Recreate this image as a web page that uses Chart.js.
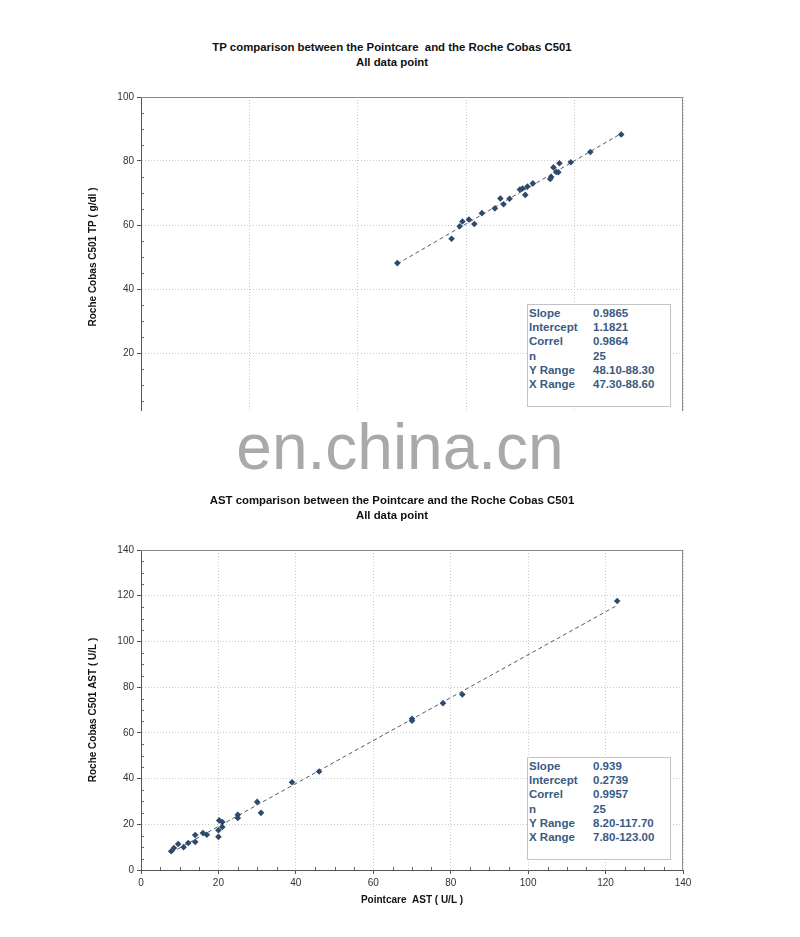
<!DOCTYPE html>
<html>
<head>
<meta charset="utf-8">
<script src="https://cdn.jsdelivr.net/npm/chart.js@4/dist/chart.umd.min.js"></script>
<style>
  body { margin: 0; background: #fff; font-family: "Liberation Sans", Arial, sans-serif; }
  #page { position: relative; width: 800px; height: 937px; overflow: hidden; }
  .title { position: absolute; left: 0; width: 784px; text-align: center; font-weight: bold; font-size: 11.4px; line-height: 15px; color: #111; }
  .stats { position: absolute; width: 144px; height: 103px; border: 1px solid #c4c4c4; background: #fff;
           color: #3a5a82; font-weight: bold; font-size: 11.5px; line-height: 14.2px; box-sizing: border-box; padding: 1px 0 0 1px; }
  .stats div { white-space: nowrap; }
  .stats span { display: inline-block; width: 64px; }
  .cv { position: absolute; left: 0; }
  #mask { position: absolute; left: 0; top: 411px; width: 800px; height: 68px; background: #fff; }
  #wm { position: absolute; left: 0; width: 800px; top: 410px; text-align: center; font-size: 64px; color: #a9a9a9; }
</style>
</head>
<body>
<div id="page">
  <div class="title" style="top:40px">TP comparison between the Pointcare&nbsp; and the Roche Cobas C501<br>All data point</div>
  <div class="cv" style="top:80px;width:800px;height:350px"><canvas id="tpChart"></canvas></div>
  <div class="stats" id="tpStats" style="left:527px;top:304px"></div>
  <div id="mask"></div>
  <div id="wm">en.china.cn</div>

  <div class="title" style="top:493px">AST comparison between the Pointcare and the Roche Cobas C501<br>All data point</div>
  <div class="cv" style="top:530px;width:800px;height:390px"><canvas id="astChart"></canvas></div>
  <div class="stats" id="astStats" style="left:527px;top:757px"></div>
</div>
<script>
// TP: Pointcare (x) vs Roche Cobas C501 (y), g/dl
const tpX = [47.3, 57.3, 58.8, 59.3, 60.5, 61.5, 62.9, 65.3, 66.3, 66.9, 68.0, 69.9, 70.4,
             70.9, 71.3, 72.3, 75.5, 75.7, 76.1, 76.6, 77.0, 77.2, 79.3, 82.9, 88.6];
const tpY = [48.1, 55.7, 59.6, 61.1, 61.7, 60.3, 63.7, 65.2, 68.3, 66.5, 68.2, 71.1, 71.4,
             69.4, 72.0, 73.0, 74.4, 75.0, 78.0, 76.6, 76.5, 79.3, 79.6, 82.8, 88.3];
const tpSlope = 0.9865;
const tpIntercept = 1.1821;
const tpStatLabels = ["Slope", "Intercept", "Correl", "n", "Y Range", "X Range"];
const tpStatValues = ["0.9865", "1.1821", "0.9864", "25", "48.10-88.30", "47.30-88.60"];

// AST: Pointcare (x) vs Roche Cobas C501 (y), U/L
const astX = [7.8, 8.5, 9.6, 11.0, 12.2, 14.0, 14.0, 16.0, 17.0, 20.0, 20.0, 20.2, 21.0,
              21.0, 25.0, 25.0, 30.0, 31.0, 39.0, 46.0, 70.0, 70.0, 78.0, 83.0, 123.0];
const astY = [8.2, 9.6, 11.4, 10.0, 11.8, 12.3, 15.3, 16.2, 15.4, 14.5, 17.4, 21.7, 21.0,
              18.8, 22.8, 24.2, 29.8, 25.0, 38.4, 43.1, 65.3, 66.2, 73.0, 76.8, 117.7];
const astSlope = 0.939;
const astIntercept = 0.2739;
const astStatLabels = ["Slope", "Intercept", "Correl", "n", "Y Range", "X Range"];
const astStatValues = ["0.939", "0.2739", "0.9957", "25", "8.20-117.70", "7.80-123.00"];

Chart.defaults.font.family = '"Liberation Sans", Arial, sans-serif';
Chart.defaults.font.size = 10;
Chart.defaults.color = "#333";

function fillStats(id, labels, values) {
  const box = document.getElementById(id);
  box.innerHTML = labels.map((l, i) => `<div><span>${l}</span>${values[i]}</div>`).join("");
}
fillStats("tpStats", tpStatLabels, tpStatValues);
fillStats("astStats", astStatLabels, astStatValues);

// plot frame on top/right and small minor ticks inside the axes
const axisDecor = {
  id: "axisDecor",
  afterDraw(chart) {
    const { ctx, chartArea: a, scales: { x, y } } = chart;
    ctx.save();
    ctx.lineWidth = 1;
    ctx.strokeStyle = "#8c8c8c";
    ctx.beginPath();
    ctx.moveTo(a.left, a.top + 0.5); ctx.lineTo(a.right, a.top + 0.5);
    ctx.moveTo(a.right - 0.5, a.top); ctx.lineTo(a.right - 0.5, a.bottom);
    ctx.stroke();
    ctx.strokeStyle = "#666";
    ctx.beginPath();
    for (let v = x.min + 5; v < x.max; v += 5) {
      if (v % 20 === 0) continue;
      const px = Math.round(x.getPixelForValue(v)) + 0.5;
      ctx.moveTo(px, a.bottom); ctx.lineTo(px, a.bottom - 3);
    }
    for (let v = y.min + 5; v < y.max; v += 5) {
      if (v % 20 === 0) continue;
      const py = Math.round(y.getPixelForValue(v)) + 0.5;
      ctx.moveTo(a.left, py); ctx.lineTo(a.left + 3, py);
    }
    ctx.stroke();
    ctx.restore();
  }
};

function makeChart(id, xs, ys, slope, intercept, max, yTitle, xTitle, pad, xHeight) {
  const pts = xs.map((v, i) => ({ x: v, y: ys[i] }));
  const x0 = Math.min(...xs), x1 = Math.max(...xs);
  const fit = [{ x: x0, y: slope * x0 + intercept }, { x: x1, y: slope * x1 + intercept }];
  const gridOpts = {
    color: "#c9c9c9",
    tickColor: "#555",
    tickLength: 4,
  };
  return new Chart(document.getElementById(id), {
    type: "scatter",
    data: {
      datasets: [
        {
          data: pts,
          pointStyle: "rectRot",
          pointRadius: 3.3,
          borderWidth: 0,
          backgroundColor: "#2d4a6d",
        },
        {
          data: fit,
          showLine: true,
          pointRadius: 0,
          borderColor: "#4d5b6b",
          borderWidth: 1,
          borderDash: [4, 3],
        },
      ]
    },
    options: {
      animation: false,
      responsive: true,
      maintainAspectRatio: false,
      layout: { padding: pad },
      plugins: { legend: { display: false }, tooltip: { enabled: false } },
      scales: {
        x: {
          min: 0, max: max,
          ticks: { stepSize: 20, display: xTitle !== null, padding: 3 },
          grid: gridOpts,
          border: { color: "#555", dash: [1, 2] },
          title: { display: xTitle !== null, text: xTitle || "", font: { weight: "bold", size: 10 }, color: "#111" },
          afterFit: s => { s.height = xHeight; },
        },
        y: {
          min: 0, max: max,
          ticks: { stepSize: 20, padding: 3 },
          grid: gridOpts,
          border: { color: "#555", dash: [1, 2] },
          title: { display: true, text: yTitle, font: { weight: "bold", size: 10 }, color: "#111" },
          afterFit: s => { s.width = 58; },
        },
      }
    },
    plugins: [axisDecor]
  });
}

makeChart("tpChart", tpX, tpY, tpSlope, tpIntercept, 100,
  "Roche Cobas C501 TP ( g/dl )", null, { left: 83, right: 117, top: 17, bottom: 0 }, 13);
makeChart("astChart", astX, astY, astSlope, astIntercept, 140,
  "Roche Cobas C501 AST ( U/L )", "Pointcare  AST ( U/L )", { left: 83, right: 117, top: 20, bottom: 10 }, 40);
</script>
</body>
</html>
